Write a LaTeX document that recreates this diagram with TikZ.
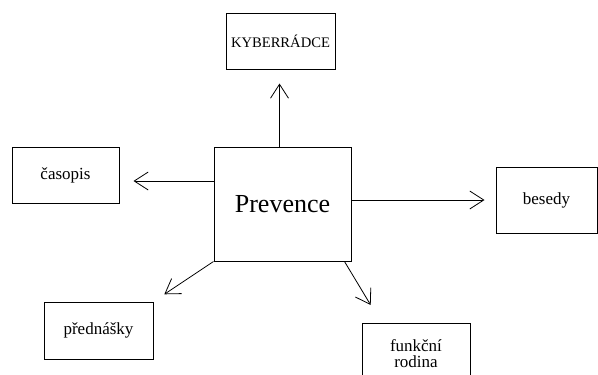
\documentclass[tikz,border=0pt]{standalone}
\usepackage{fontspec}
\setmainfont{Liberation Serif}
\usetikzlibrary{arrows.meta}

\begin{document}
\begin{tikzpicture}[x=1pt, y=-1pt, main/.style = {draw, line width=1pt, rectangle, inner sep=0pt, font=\fontsize{17}{20}\selectfont}, arr/.style = {line width=0.8pt, -{Straight Barb[length=14pt, width=18pt, line width=0.8pt]}}]
                \useasboundingbox (0,0) rectangle (598,375);
                \node[main, minimum width=137pt, minimum height=114pt, font=\fontsize{26}{30}\selectfont] (1) at (282.5,204) {Prevence};

                \node[main, minimum width=109pt, minimum height=56pt, font=\fontsize{14.6}{16}\selectfont] (2) at (280.5,41) {KYBERRÁDCE};
                \draw[arr, shorten >=14pt] ([xshift=-3pt]1.north) -- ([xshift=-1pt]2.south);

                \node[main, minimum width=107pt, minimum height=56pt] (3) at (65.5,175) {časopis};
                \draw[arr, shorten >=14pt] ([yshift=23pt]1.west) -- ([yshift=-6pt]3.east);

                \node[main, minimum width=101pt, minimum height=66pt] (4) at (546.5,200) {besedy};
                \draw[arr, shorten >=11pt] (1.east |- 4.west) -- (4.west);

                \node[main, minimum width=109pt, minimum height=57pt] (5) at (98.5,330.5) {přednášky};
                \draw[arr, shorten >=13pt] (1.south west) -- (5.north east);

                \node[main, minimum width=108pt, minimum height=60pt, align=center, anchor=north, font=\fontsize{17}{16}\selectfont] (6) at (416,323) {funkční\\rodina};
                \draw[arr, shorten >=21pt] ([xshift=-7pt]1.south east) -- ([xshift=20pt]6.north west);
            \end{tikzpicture}
\end{document}
